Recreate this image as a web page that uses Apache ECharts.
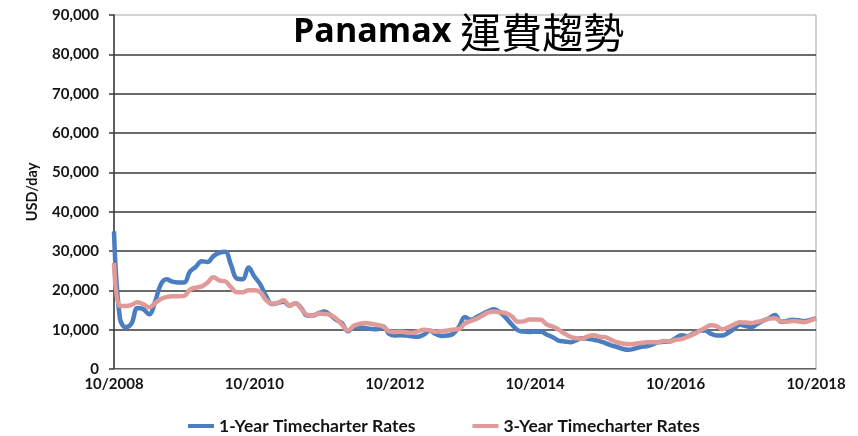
<!DOCTYPE html>
<html>
<head>
<meta charset="utf-8">
<script src="https://cdn.jsdelivr.net/npm/echarts@6/dist/echarts.min.js"></script>
<style>
  html, body { margin:0; padding:0; background:#fff; }
  #chart { width:858px; height:436px; }
</style>
</head>
<body>
<div id="chart"></div>
<script>
// === Datos (USD/day, mensual desde 10/2008 hasta 10/2018) ===
const START_YEAR = 2008, START_MONTH = 10, N_MONTHS = 121;
const months = [];
for (let i = 0; i < N_MONTHS; i++) {
  const m = (START_MONTH - 1 + i) % 12 + 1;
  const y = START_YEAR + Math.floor((START_MONTH - 1 + i) / 12);
  months.push(m + '/' + y);
}

const oneYear = [
  35000,13000,10600,11600,15500,15200,13900,17000,21500,22800,
  22200,22000,22000,24800,26000,27400,27200,28700,29500,29800,
  26500,23000,22800,25800,23500,21500,18500,16500,16800,17100,
  16100,16700,15500,13600,13600,14200,14600,13700,12500,11600,
  9600,10600,10600,10400,10200,10100,10800,9000,8500,8600,
  8500,8300,8200,8800,9700,8900,8400,8500,9000,10800,
  13200,12500,13200,14000,14700,15200,14400,13000,11300,9900,
  9500,9400,9500,9500,8700,8100,7200,7000,6800,7300,
  7800,7700,7400,7100,6600,6000,5600,5100,4900,5200,
  5600,5800,6200,6800,6900,7000,7800,8600,8300,9000,
  9700,9800,9000,8500,8500,9200,10200,11300,10900,10700,
  11500,12300,12900,13700,12000,12200,12500,12400,12200,12500,12900
];

const threeYear = [
  27000,16000,16000,16300,17000,16500,15700,16700,17800,18300,
  18500,18500,18600,20200,20700,21000,22000,23300,22500,22300,
  20800,19500,19500,20000,20000,19500,17500,16600,16800,17500,
  16100,16700,15300,13800,13600,14100,14000,13700,12800,11200,
  9800,11000,11500,11700,11500,11200,10800,9600,9400,9500,
  9300,9200,9600,10000,9800,9500,9600,9800,10000,10200,
  11600,12200,12800,13600,14400,14600,14400,14200,13400,12000,
  12100,12600,12600,12500,11300,10800,10000,9000,8200,7800,
  7700,8300,8600,8200,8100,7400,6800,6500,6300,6400,
  6600,6800,6800,6800,7100,7000,7400,7600,8200,8800,
  9600,10400,11100,10900,10100,10600,11300,11900,11800,11700,
  12000,12300,12800,12900,12100,12000,12200,12100,11900,12300,12900
];

// === Estilos ===
const blue = '#4a7ec0', pink = '#e09a97', gridDark = '#3a3a3a', frame = '#a6a6a6', txt = '#141414';
const lblFont = { fontFamily:'Lato', fontWeight:'bold', fontSize:15, color:txt };
const nf0 = new Intl.NumberFormat('en-US', { maximumFractionDigits:0 });

const chart = echarts.init(document.getElementById('chart'));
chart.setOption({
  animation:false,
  backgroundColor:'#fff',
  title:{
    left:288, top:7,
    text:'{a|Panamax }{b|運費趨勢}',
    textStyle:{
      rich:{
        a:{ fontFamily:'Open Sans', fontWeight:'bold', fontSize:34, color:'#000' },
        b:{ fontFamily:'Noto Sans CJK TC', fontWeight:'normal', fontSize:41, color:'#000' }
      }
    }
  },
  legend:{
    left:183, top:412,
    itemGap:57, itemWidth:26, itemHeight:4, icon:'rect',
    textStyle:{ fontFamily:'Lato', fontWeight:'bold', fontSize:17.5, color:txt },
    data:['1-Year Timecharter Rates','3-Year Timecharter Rates']
  },
  grid:{ left:114, right:42, top:15, bottom:67, show:true, borderColor:frame, borderWidth:1 },
  xAxis:{
    type:'category', data:months, boundaryGap:false,
    axisLine:{ show:true, lineStyle:{ color:frame, width:1 } },
    axisTick:{ show:false },
    axisLabel:{ ...lblFont, interval:23, margin:8, showMaxLabel:true },
    splitLine:{ show:false }
  },
  yAxis:{
    type:'value', min:0, max:90000, interval:10000,
    name:'USD/day', nameLocation:'middle', nameGap:74, nameRotate:90,
    nameTextStyle:{ fontFamily:'Lato', fontWeight:'bold', fontSize:14.5, color:txt },
    axisLine:{ show:true, lineStyle:{ color:gridDark, width:1.5 } },
    axisTick:{ show:true, inside:false, length:5, lineStyle:{ color:gridDark, width:1.5 } },
    axisLabel:{ ...lblFont, margin:15, formatter:v=>nf0.format(v) },
    splitLine:{ show:true, showMaxLine:false, lineStyle:{ color:gridDark, width:1.5 } }
  },
  series:[
    { name:'1-Year Timecharter Rates', type:'line', data:oneYear, smooth:0.4, symbol:'none',
      lineStyle:{ color:blue, width:4.5 }, itemStyle:{ color:blue }, z:2 },
    { name:'3-Year Timecharter Rates', type:'line', data:threeYear, smooth:0.4, symbol:'none',
      lineStyle:{ color:pink, width:4.5 }, itemStyle:{ color:pink }, z:3 }
  ]
});
</script>
</body>
</html>
